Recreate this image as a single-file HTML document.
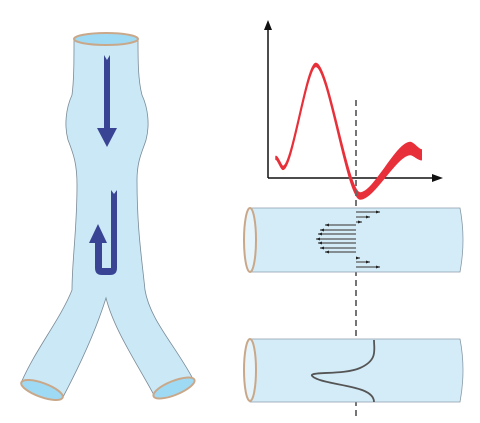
<!DOCTYPE html>
<html><head><meta charset="utf-8"><style>
html,body{margin:0;padding:0;background:#fff;width:480px;height:423px;overflow:hidden}
svg{display:block;font-family:"Liberation Sans",sans-serif}
</style></head><body>
<svg id="s" width="480" height="423" viewBox="0 0 480 423">
<g>
<path d="M74,39 C74,60 74,80 72,95 C66,108 64,125 68,140 C74,155 77,165 77,185 C77,230 72,260 72,290 C60,320 35,350 21,383 L63,397 C80,365 96,330 106,298 C114,330 138,365 155,397 L193,379 C175,345 150,320 145,290 C142,260 137,230 137,180 C137,160 143,150 146,140 C150,125 148,108 142,95 C138,80 138,60 138,39 Z" fill="#cae8f6" stroke="#7a8a96" stroke-width="0.8"/>
<ellipse cx="106" cy="39" rx="32" ry="6" fill="#9fdaf5" stroke="#c9a88a" stroke-width="2"/>
<ellipse cx="42" cy="390" rx="22" ry="7" transform="rotate(20 42 390)" fill="#9fdaf5" stroke="#c9a88a" stroke-width="2"/>
<ellipse cx="174" cy="388" rx="22" ry="7" transform="rotate(-22 174 388)" fill="#9fdaf5" stroke="#c9a88a" stroke-width="2"/>
<path d="M104,55 L107,60 L110,55 L110,128 L117,128 L107,147 L97,128 L104,128 Z" fill="#3a4494"/>
<path d="M111,190 L114,194 L117,190 L117,268 Q117,275 110,275 L102,275 Q95,275 95,268 L95,243 L89,243 L98,224 L107,243 L102,243 L102,268 L111,268 Z" fill="#3a4494"/>
</g>
<g>
<line x1="268" y1="178" x2="268" y2="28" stroke="#111" stroke-width="1.5"/>
<path d="M264,30 L268,20 L272,30 Z" fill="#111"/>
<line x1="268" y1="178" x2="434" y2="178" stroke="#111" stroke-width="1.5"/>
<path d="M432,174 L443,178 L432,182 Z" fill="#111"/>
<g id="wave"></g>
</g>
<line x1="356" y1="100" x2="356" y2="418" stroke="#666" stroke-width="1.8" stroke-dasharray="6,4"/>
<g>
<path d="M250,208 L460,208 Q466,240 460,272 L250,272 Z" fill="#d4ecf8" stroke="#8a9aa6" stroke-width="0.8"/>
<ellipse cx="250" cy="240" rx="6" ry="32" fill="#e6f4fb" stroke="#c9a88a" stroke-width="2"/>
<g id="arrows"></g>
</g>
<g>
<path d="M250,339 L460,339 Q466,370 460,402 L250,402 Z" fill="#d4ecf8" stroke="#8a9aa6" stroke-width="0.8"/>
<ellipse cx="250" cy="370" rx="6" ry="31" fill="#e6f4fb" stroke="#c9a88a" stroke-width="2"/>
<path d="M374,340 C374,350 378,360 360,368 C342,376 300,370 315,378 C330,386 374,385 374,402" fill="none" stroke="#555" stroke-width="1.8"/>
</g>
</svg>
<script>
// waveform (flow vs time)
const waveT=[0.013,0.058,0.27,0.555,0.88,0.95];
const waveV=[13,6.5,73,-11.6,19,15];
const waveW=[3,3,3,6,12,10];
// arrow velocity profile in tube 1
const arrowY=[212,217,222,225,230,234,239,243,248,252,258,262,267];
const arrowV=[24,14,6,-31,-36,-38,-40,-38,-36,-31,4,14,24];
const NS="http://www.w3.org/2000/svg";
function xs(t){return 274+t*155;}
function ys(v){return 178-v*1.55;}
function segs(p){let d="";for(let i=1;i<p.length;i++){const a=p[i-1],b=p[i],dx=(b[0]-a[0])*0.28;d+=` C${a[0]+dx},${a[1]} ${b[0]-dx},${b[1]} ${b[0]},${b[1]}`;}return d;}
const wavePts=waveT.map(function(t,i){return [xs(t),ys(waveV[i]),waveW[i]];});
const edgeA=wavePts.map(function(p){return [p[0],p[1]-p[2]/2];});
const edgeB=wavePts.map(function(p){return [p[0],p[1]+p[2]/2];}).reverse();
const waveD="M"+edgeA[0][0]+","+edgeA[0][1]+segs(edgeA)+" L"+edgeB[0][0]+","+edgeB[0][1]+segs(edgeB)+" Z";
const w=document.createElementNS(NS,"path");


w.setAttribute("d",waveD);w.setAttribute("fill","#e8303a");w.setAttribute("stroke","#e8303a");w.setAttribute("stroke-width","1.5");w.setAttribute("stroke-linejoin","round");
document.getElementById("wave").appendChild(w);
const g=document.getElementById("arrows");
arrowY.forEach(function(y,i){const v=arrowV[i],x0=356,x1=x0+v;
const l=document.createElementNS(NS,"line");


l.setAttribute("x1",x0);l.setAttribute("y1",y);l.setAttribute("x2",x1);l.setAttribute("y2",y);l.setAttribute("stroke","#555");l.setAttribute("stroke-width","1.2");g.appendChild(l);
const s=Math.sign(v),h=document.createElementNS(NS,"path");


h.setAttribute("d",`M${x1},${y} L${x1-s*4},${y-1.5} L${x1-s*4},${y+1.5}Z`);h.setAttribute("fill","#222");g.appendChild(h);});
</script>
</body></html>
